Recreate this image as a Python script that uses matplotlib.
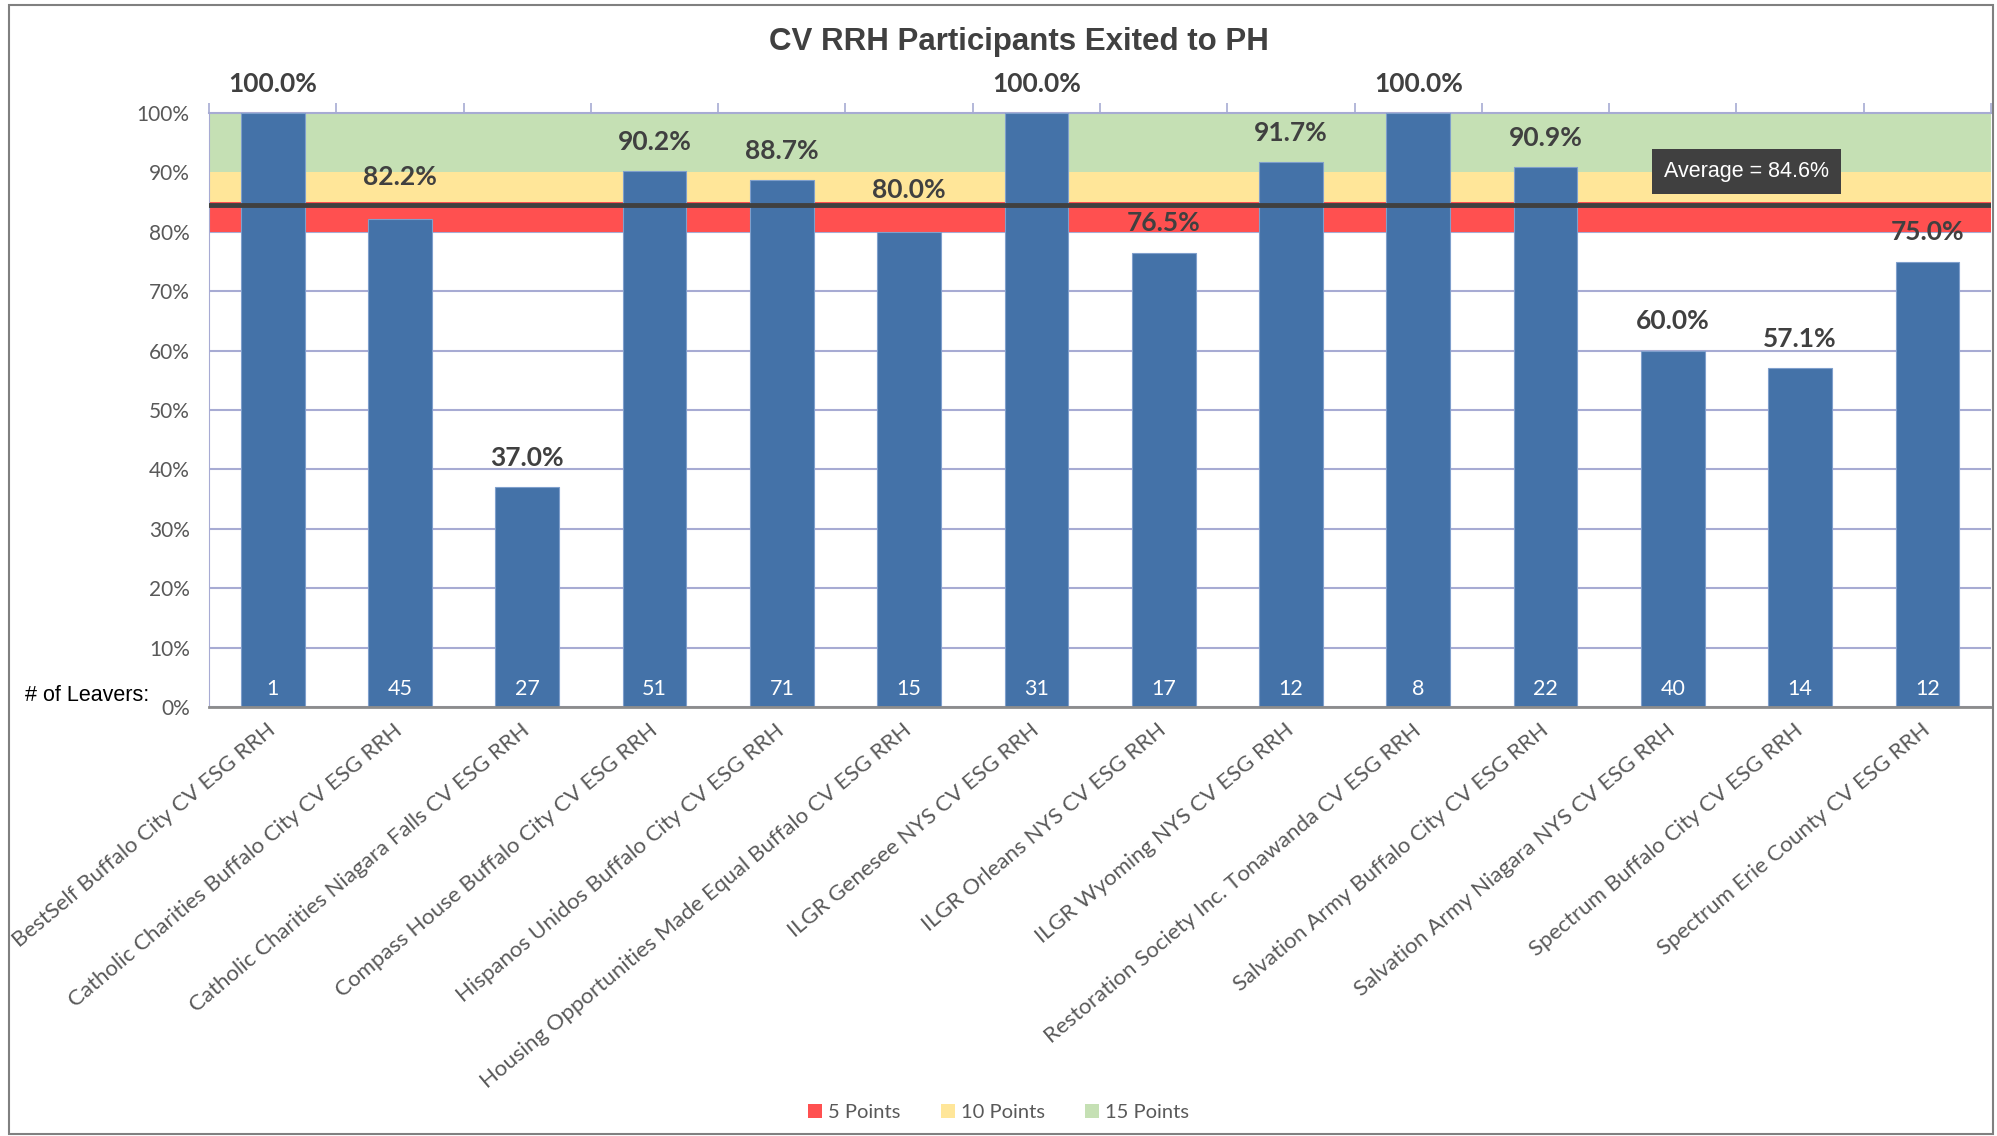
import numpy as np
import matplotlib
matplotlib.use("Agg")
import matplotlib.pyplot as plt
from matplotlib.patches import Rectangle, Patch
from matplotlib.ticker import FuncFormatter

# data
programs = [
    "BestSelf Buffalo City CV ESG RRH",
    "Catholic Charities Buffalo City CV ESG RRH",
    "Catholic Charities Niagara Falls CV ESG RRH",
    "Compass House Buffalo City CV ESG RRH",
    "Hispanos Unidos Buffalo City CV ESG RRH",
    "Housing Opportunities Made Equal Buffalo CV ESG RRH",
    "ILGR Genesee NYS CV ESG RRH",
    "ILGR Orleans NYS CV ESG RRH",
    "ILGR Wyoming NYS CV ESG RRH",
    "Restoration Society Inc. Tonawanda CV ESG RRH",
    "Salvation Army Buffalo City CV ESG RRH",
    "Salvation Army Niagara NYS CV ESG RRH",
    "Spectrum Buffalo City CV ESG RRH",
    "Spectrum Erie County CV ESG RRH",
]
pct_exited = [100.0, 82.2, 37.0, 90.2, 88.7, 80.0, 100.0, 76.5, 91.7, 100.0, 90.9, 60.0, 57.1, 75.0]
leavers = [1, 45, 27, 51, 71, 15, 31, 17, 12, 8, 22, 40, 14, 12]
average = 84.6

band_labels = ["5 Points", "10 Points", "15 Points"]
band_edges = [80, 85, 90, 100]
band_colors = ["#FF5050", "#FFE699", "#C5E0B4"]

bar_color = "#4472A8"
grid_color = "#A7ABD3"
text_gray = "#595959"

fig = plt.figure(figsize=(19.97, 11.36), dpi=100)
ax = fig.add_axes([0.1047, 0.3776, 0.8923, 0.5229])

x = np.arange(len(programs))

# colored point bands
for lo, hi, c in zip(band_edges[:-1], band_edges[1:], band_colors):
    ax.axhspan(lo, hi, color=c, zorder=1, lw=0)

ax.bar(x, pct_exited, width=0.5, color=bar_color, edgecolor="#7F9FCC",
       linewidth=0.8, zorder=3)

# average line
ax.axhline(average, color="#404040", lw=3.5, zorder=4)
ax.text(11.58, 90.1, f"Average = {average}%", color="white", fontsize=15.5,
        family="Liberation Sans", ha="center", va="center", zorder=6,
        bbox=dict(boxstyle="square,pad=0.55", fc="#404040", ec="none"))

# value labels (nudged up when they would sit on the average line)
for xi, v in zip(x, pct_exited):
    off = 21
    if average - 6 < v < average - 2:
        off = 30
    ax.annotate(f"{v:.1f}%", (xi, v), xytext=(0, off), textcoords="offset points",
                ha="center", va="center", fontsize=19, fontweight="bold",
                family="Lato", color="#404040", zorder=6, annotation_clip=False)

# leaver counts inside bars
for xi, n in zip(x, leavers):
    ax.annotate(str(n), (xi, 0), xytext=(0, 13), textcoords="offset points",
                ha="center", va="center", fontsize=15.5, family="Lato",
                color="white", zorder=6)

fig.text(0.0125, 0.388, "# of Leavers:", fontsize=15.5, family="Liberation Sans",
         color="black", ha="left", va="center")

ax.set_xlim(-0.5, len(programs) - 0.5)
ax.set_ylim(0, 100)
ax.set_yticks(np.arange(0, 101, 10))
ax.yaxis.set_major_formatter(FuncFormatter(lambda v, p: f"{v:.0f}%"))
ax.yaxis.grid(True, color=grid_color, lw=1.5, zorder=0)
ax.set_axisbelow(True)

ax.set_xticks(x)
ax.set_xticklabels(programs, rotation=40, ha="right", va="center",
                   rotation_mode="anchor", fontsize=16, family="Lato",
                   color=text_gray)
ax.set_xticks(np.arange(-0.5, len(programs), 1), minor=True)
ax.tick_params(axis="x", which="major", length=0, pad=15)
ax.tick_params(axis="x", which="minor", bottom=False, top=True, direction="out",
               length=7, color=grid_color, width=1.2)
ax.tick_params(axis="y", length=0, pad=14, labelsize=15, labelcolor=text_gray)
for lab in ax.get_yticklabels():
    lab.set_family("Lato")

ax.spines["bottom"].set_color("#8C8C8C")
ax.spines["bottom"].set_linewidth(2)
ax.spines["bottom"].set_zorder(5)
ax.spines["left"].set_color(grid_color)
ax.spines["top"].set_color(grid_color)
ax.spines["top"].set_linewidth(1.5)
ax.spines["right"].set_visible(False)

fig.text(0.51, 0.963, "CV RRH Participants Exited to PH", fontsize=22.5,
         fontweight="bold", family="Liberation Sans", color="#404040",
         ha="center", va="center")

handles = [Patch(facecolor=c, edgecolor="none") for c in band_colors]
leg = fig.legend(handles, band_labels, loc="center", bbox_to_anchor=(0.5, 0.021),
                 ncol=3, frameon=False, handlelength=0.7, handleheight=0.7,
                 handletextpad=0.3, columnspacing=2.0,
                 prop={"family": "Lato", "size": 14.5})
for t in leg.get_texts():
    t.set_color(text_gray)

# outer chart frame
fig.patches.append(Rectangle((0.0045, 0.002), 0.9935, 0.994, transform=fig.transFigure,
                             fill=False, ec="#808080", lw=1.5))

fig.savefig("out.png", dpi=100)
